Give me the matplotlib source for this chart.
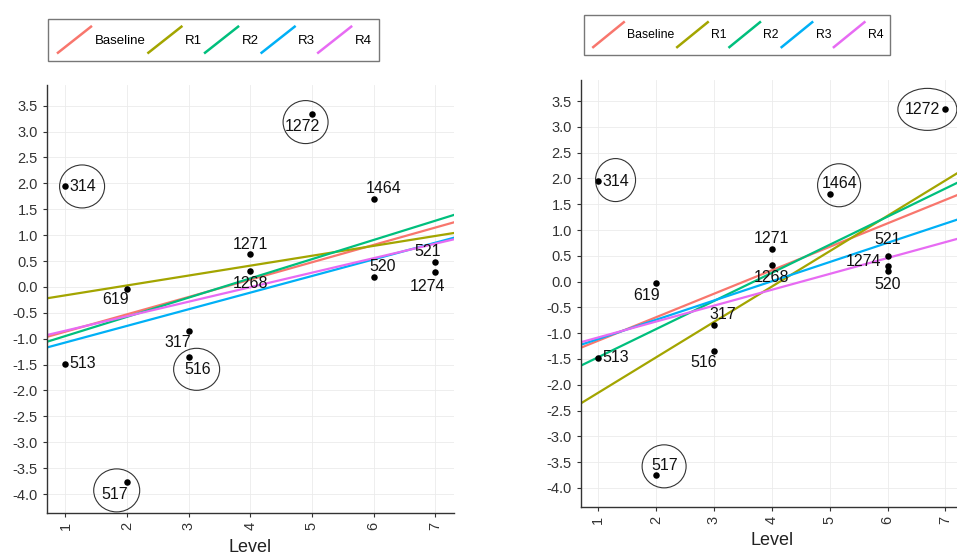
import matplotlib
matplotlib.use("Agg")
import matplotlib.pyplot as plt
from matplotlib.lines import Line2D
from matplotlib.patches import Ellipse
from matplotlib.legend_handler import HandlerBase
from matplotlib.transforms import ScaledTranslation

plt.rcParams.update({
    "font.family": ["Liberation Sans", "DejaVu Sans"],
    "axes.unicode_minus": False,
})

# ---------------------------------------------------------------------
# data
# ---------------------------------------------------------------------
series_names = ["Baseline", "R1", "R2", "R3", "R4"]
series_colors = ["#F8766D", "#A3A500", "#00BF7D", "#00B0F6", "#E76BF3"]

point_ids = ["314", "513", "619", "517", "317", "516", "1271", "1268",
             "1272", "1464", "520", "521", "1274"]

left_levels = [1, 1, 2, 2, 3, 3, 4, 4, 5, 6, 6, 7, 7]
left_values = [1.94, -1.48, -0.04, -3.77, -0.86, -1.36, 0.63, 0.30,
               3.33, 1.70, 0.19, 0.49, 0.28]
left_intercepts = [-1.20, -0.354, -1.32, -1.395, -1.126]
left_slopes = [0.335, 0.191, 0.371, 0.321, 0.280]

right_levels = [1, 1, 2, 2, 3, 3, 4, 4, 7, 5, 6, 6, 6]
right_values = [1.95, -1.48, -0.03, -3.75, -0.85, -1.35, 0.64, 0.32,
                3.34, 1.70, 0.21, 0.50, 0.30]
right_intercepts = [-1.60, -2.84, -2.01, -1.485, -1.39]
right_slopes = [0.455, 0.686, 0.545, 0.373, 0.308]

y_ticks = [-4.0, -3.5, -3.0, -2.5, -2.0, -1.5, -1.0, -0.5,
           0.0, 0.5, 1.0, 1.5, 2.0, 2.5, 3.0, 3.5]
x_ticks = [1, 2, 3, 4, 5, 6, 7]

# label placement: id -> (dx px, dy px, ha)
left_label_pos = {
    "314": (4, 0, "left"), "513": (4, 0, "left"), "619": (-11, -11, "center"),
    "517": (-12, -12, "center"), "317": (-11, -11, "center"),
    "516": (9, -12, "center"), "1271": (0, 10, "center"),
    "1268": (0, -12, "center"), "1272": (-10, -12, "center"),
    "1464": (10, 10, "center"), "520": (9, 11, "center"),
    "521": (-8, 10, "center"), "1274": (-8, -14, "center"),
}
right_label_pos = {
    "314": (4, 0, "left"), "513": (4, 0, "left"), "619": (-10, -12, "center"),
    "517": (9, 10, "center"), "317": (9, 11, "center"),
    "516": (-10, -11, "center"), "1271": (0, 10, "center"),
    "1268": (0, -12, "center"), "1272": (-5, 0, "right"),
    "1464": (10, 10, "center"), "520": (0, -14, "center"),
    "521": (0, 16, "center"), "1274": (-6, 5, "right"),
}
# circled points: id -> (dx px, dy px, width px, height px)
left_circles = {"314": (16.7, 0, 45, 43), "1272": (-6.3, -7.6, 45, 43),
                "516": (8, -12, 46, 42), "517": (-10.3, -8.3, 46, 43)}
right_circles = {"314": (17.3, 1, 40, 43), "1272": (-18, 0, 59, 42),
                 "1464": (9.4, 8.7, 43, 43), "517": (8, 8.7, 44, 43)}


class DiagonalHandler(HandlerBase):
    def create_artists(self, legend, orig_handle, xdescent, ydescent,
                       width, height, fontsize, trans):
        x0, y0 = -xdescent, -ydescent
        line = Line2D([x0 + 0.05 * width, x0 + 0.95 * width],
                      [y0, y0 + height],
                      color=orig_handle.get_color(),
                      lw=orig_handle.get_linewidth(),
                      solid_capstyle="butt", transform=trans)
        return [line]


def draw_panel(fig, rect, levels, values, intercepts, slopes,
               label_pos, circles):
    ax = fig.add_axes(rect)
    ax.set_xlim(0.7, 7.3)
    ax.set_ylim(-4.37, 3.9)

    for b, m, c in zip(intercepts, slopes, series_colors):
        ax.axline((0, b), slope=m, color=c, lw=1.6, zorder=2)

    ax.scatter(levels, values, s=22, color="black", zorder=3, lw=0)

    for pid, x, y in zip(point_ids, levels, values):
        dx, dy, ha = label_pos[pid]
        ax.annotate(pid, (x, y), xytext=(dx, dy), textcoords="offset pixels",
                    ha=ha, va="center", fontsize=11.5, color="#111111",
                    zorder=4)
        if pid in circles:
            cdx, cdy, w, h = circles[pid]
            tr = fig.dpi_scale_trans + ScaledTranslation(x, y, ax.transData)
            ax.add_patch(Ellipse((cdx / 100, cdy / 100), w / 100, h / 100,
                                 transform=tr, fill=False, ec="#333333",
                                 lw=0.8, clip_on=False, zorder=4))

    ax.set_xticks(x_ticks)
    ax.set_xticklabels([str(t) for t in x_ticks], rotation=90)
    ax.set_yticks(y_ticks)
    ax.set_yticklabels([f"{t:.1f}" for t in y_ticks])
    ax.tick_params(labelsize=10.5, colors="#333333", length=3, width=0.8)
    ax.grid(True, color="#ebebeb", lw=0.6)
    ax.set_axisbelow(True)
    for s in ["top", "right"]:
        ax.spines[s].set_visible(False)
    for s in ["left", "bottom"]:
        ax.spines[s].set_color("#333333")
        ax.spines[s].set_linewidth(1.0)
    ax.set_xlabel("Level", fontsize=13, color="#222222", labelpad=6)
    return ax


def draw_legend(fig, center, fontsize, key_w, key_h):
    handles = [Line2D([], [], color=c, lw=1.8) for c in series_colors]
    leg = fig.legend(handles, series_names, loc="center",
                     bbox_to_anchor=center, ncol=5, fontsize=fontsize,
                     handler_map={Line2D: DiagonalHandler()},
                     handlelength=key_w / fontsize,
                     handleheight=key_h / fontsize,
                     handletextpad=0.05, columnspacing=0.0, borderpad=0.55,
                     fancybox=False, frameon=True, edgecolor="#555555")
    leg.get_frame().set_linewidth(1.0)
    return leg


fig = plt.figure(figsize=(9.57, 5.59), dpi=100)

draw_panel(fig, [0.049, 0.082, 0.425, 0.766], left_levels, left_values,
           left_intercepts, left_slopes, left_label_pos, left_circles)
draw_panel(fig, [0.607, 0.093, 0.399, 0.763], right_levels, right_values,
           right_intercepts, right_slopes, right_label_pos, right_circles)

draw_legend(fig, (0.223, 0.929), 9.5, 28, 27)
draw_legend(fig, (0.770, 0.938), 8.8, 26, 26)

fig.savefig("out.png", dpi=100)
